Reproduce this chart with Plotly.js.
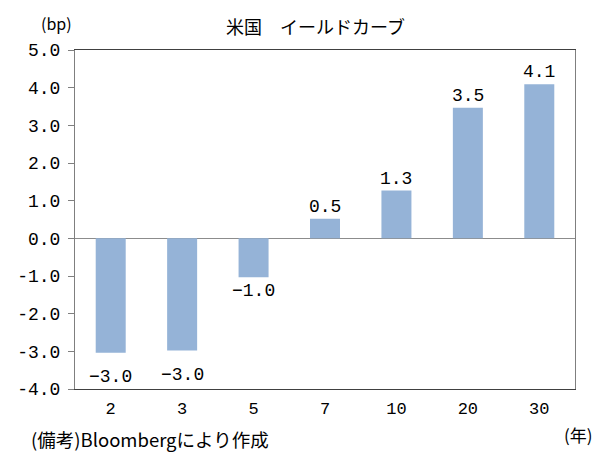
<!DOCTYPE html>
<html>
<head>
<meta charset="utf-8">
<script src="https://cdn.plot.ly/plotly-3.0.1.min.js"></script>
<style>html,body{margin:0;padding:0;background:#fff;}#chart{width:603px;height:453px;}</style>
</head>
<body>
<div id="chart"></div>
<script>
// US yield curve change by maturity (bp)
const maturities = ['2', '3', '5', '7', '10', '20', '30'];
const changes = [-3.04, -2.98, -1.03, 0.52, 1.27, 3.47, 4.09];
const yTicks = [5, 4, 3, 2, 1, 0, -1, -2, -3, -4];

const numFont = 'Liberation Mono, DejaVu Sans Mono, monospace';
const jpFont = 'Noto Sans CJK JP, sans-serif';

const trace = {
  type: 'bar',
  x: maturities,
  y: changes,
  marker: {color: '#95B3D7'},
  width: 0.42,
  hoverinfo: 'skip'
};

// value labels sit just past the end of each bar; deep negatives drop a little further.
// On a category axis annotations are placed by category index.
const valueLabels = maturities.map((m, i) => {
  const v = changes[i];
  const neg = v < 0;
  return {
    x: i, y: v, xref: 'x', yref: 'y',
    text: v.toFixed(1).replace('-', '\u2212'),
    showarrow: false,
    xanchor: 'center',
    yanchor: neg ? 'top' : 'bottom',
    yshift: neg ? (v < -2 ? -12 : -2) : 0,
    font: {family: numFont, size: 18, color: '#000'}
  };
});

const layout = {
  width: 603,
  height: 453,
  margin: {l: 75, r: 28, t: 50, b: 64},
  paper_bgcolor: '#fff',
  plot_bgcolor: '#fff',
  showlegend: false,
  xaxis: {
    type: 'category',
    showline: true,
    mirror: true,
    linecolor: '#404040',
    linewidth: 1,
    ticks: '',
    showgrid: false,
    zeroline: false,
    tickfont: {family: numFont, size: 17, color: '#000'},
    ticklabelstandoff: 4
  },
  yaxis: {
    range: [-4, 5],
    tickvals: yTicks,
    ticktext: yTicks.map(v => v.toFixed(1)),
    showline: true,
    mirror: true,
    linecolor: '#7f7f7f',
    linewidth: 1,
    ticks: 'outside',
    ticklen: 6,
    tickcolor: '#7f7f7f',
    showgrid: false,
    zeroline: true,
    zerolinecolor: '#8c8c8c',
    zerolinewidth: 1,
    tickfont: {family: numFont, size: 18, color: '#000'},
    ticklabelstandoff: 4
  },
  annotations: valueLabels.concat([
    {text: '米国　イールドカーブ', xref: 'paper', yref: 'paper', x: 0.48, y: 1, yshift: 24, showarrow: false,
     xanchor: 'center', yanchor: 'middle', font: {family: jpFont, size: 18, color: '#000'}},
    {text: '(bp)', xref: 'paper', yref: 'paper', x: 0, xshift: -19, y: 1, yshift: 27, showarrow: false,
     xanchor: 'center', yanchor: 'middle', font: {family: jpFont, size: 16, color: '#000'}},
    {text: '(年)', xref: 'paper', yref: 'paper', x: 1, xshift: 20, y: 0, yshift: -45, showarrow: false,
     xanchor: 'right', yanchor: 'middle', font: {family: jpFont, size: 17, color: '#000'}},
    {text: '(備考)Bloombergにより作成', xref: 'paper', yref: 'paper', x: 0, xshift: -46, y: 0, yshift: -50, showarrow: false,
     xanchor: 'left', yanchor: 'middle', font: {family: jpFont, size: 18.5, color: '#000'}}
  ])
};

Plotly.newPlot('chart', [trace], layout, {displayModeBar: false, staticPlot: true});
</script>
</body>
</html>
